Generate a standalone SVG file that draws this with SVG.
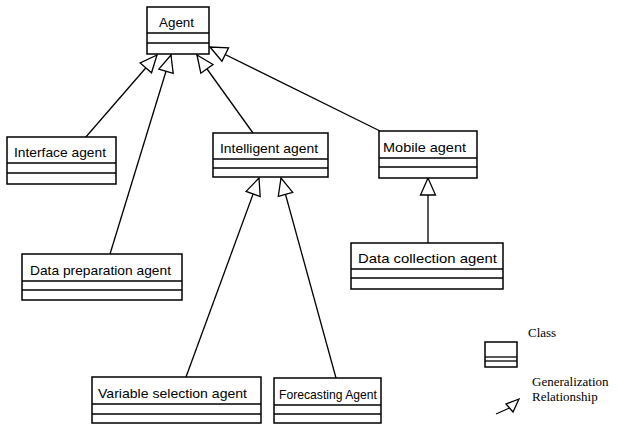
<svg xmlns="http://www.w3.org/2000/svg" width="617" height="426" viewBox="0 0 617 426">
  <style>
    .box { fill: #fff; stroke: #000; stroke-width: 1.5; }
    .div { stroke: #000; stroke-width: 1.3; }
    .lbl { font-family: "Liberation Sans", Arial, sans-serif; font-size: 13.5px; fill: #000; }
    .leg { font-family: "Liberation Serif", "Times New Roman", serif; font-size: 13px; fill: #000; }
    .conn line { stroke: #000; stroke-width: 1.3; marker-end: url(#gen); }
  </style>
  <defs>
    <!-- hollow triangle for UML generalization -->
    <marker id="gen" markerUnits="userSpaceOnUse" markerWidth="22" markerHeight="22" viewBox="-19 -11 22 22" refX="0" refY="0" orient="auto" overflow="visible">
      <path d="M0,0 L-17,-7.5 L-17,7.5 Z" fill="#fff" stroke="#000" stroke-width="1.3" stroke-linejoin="miter"/>
    </marker>
  </defs>
  <rect width="617" height="426" fill="#fff"/>

  <g id="connectors" class="conn">
    <line x1="85" y1="138" x2="157" y2="55"/>
    <line x1="110" y1="254" x2="171" y2="55"/>
    <line x1="253" y1="133" x2="197" y2="55"/>
    <line x1="380" y1="131" x2="210" y2="47"/>
    <line x1="186" y1="377" x2="259" y2="178"/>
    <line x1="336" y1="378" x2="281" y2="178"/>
    <line x1="428" y1="243" x2="428" y2="178"/>
  </g>

  <g id="agent">
    <rect class="box" x="147" y="7" width="62" height="47"/>
    <line class="div" x1="147" y1="33" x2="209" y2="33"/>
    <line class="div" x1="147" y1="43" x2="209" y2="43"/>
    <text class="lbl" x="159" y="27" textLength="35" lengthAdjust="spacingAndGlyphs">Agent</text>
  </g>

  <g id="interface-agent">
    <rect class="box" x="7" y="137" width="109" height="47"/>
    <line class="div" x1="7" y1="163" x2="116" y2="163"/>
    <line class="div" x1="7" y1="173" x2="116" y2="173"/>
    <text class="lbl" x="14" y="157" textLength="92" lengthAdjust="spacingAndGlyphs">Interface agent</text>
  </g>

  <g id="data-preparation-agent">
    <rect class="box" x="22" y="254" width="160" height="46"/>
    <line class="div" x1="22" y1="281" x2="182" y2="281"/>
    <line class="div" x1="22" y1="290" x2="182" y2="290"/>
    <text class="lbl" x="30" y="275" textLength="141" lengthAdjust="spacingAndGlyphs">Data preparation agent</text>
  </g>

  <g id="intelligent-agent">
    <rect class="box" x="213" y="133" width="115" height="44"/>
    <line class="div" x1="213" y1="159" x2="328" y2="159"/>
    <line class="div" x1="213" y1="168" x2="328" y2="168"/>
    <text class="lbl" x="220" y="153" textLength="98" lengthAdjust="spacingAndGlyphs">Intelligent agent</text>
  </g>

  <g id="mobile-agent">
    <rect class="box" x="379" y="131" width="98" height="47"/>
    <line class="div" x1="379" y1="158" x2="477" y2="158"/>
    <line class="div" x1="379" y1="167" x2="477" y2="167"/>
    <text class="lbl" x="383" y="152" textLength="83" lengthAdjust="spacingAndGlyphs">Mobile agent</text>
  </g>

  <g id="data-collection-agent">
    <rect class="box" x="351" y="243" width="152" height="46"/>
    <line class="div" x1="351" y1="269" x2="503" y2="269"/>
    <line class="div" x1="351" y1="278" x2="503" y2="278"/>
    <text class="lbl" x="358" y="263" textLength="139" lengthAdjust="spacingAndGlyphs">Data collection agent</text>
  </g>

  <g id="variable-selection-agent">
    <rect class="box" x="92" y="377" width="169" height="46"/>
    <line class="div" x1="92" y1="404" x2="261" y2="404"/>
    <line class="div" x1="92" y1="414" x2="261" y2="414"/>
    <text class="lbl" x="98" y="398" textLength="149" lengthAdjust="spacingAndGlyphs">Variable selection agent</text>
  </g>

  <g id="forecasting-agent">
    <rect class="box" x="274" y="378" width="107" height="45"/>
    <line class="div" x1="274" y1="405" x2="381" y2="405"/>
    <line class="div" x1="274" y1="414" x2="381" y2="414"/>
    <text class="lbl" x="279" y="399" textLength="98" lengthAdjust="spacingAndGlyphs">Forecasting Agent</text>
  </g>

  <g id="legend">
    <text class="leg" x="528" y="337">Class</text>
    <rect class="box" x="485" y="342" width="32" height="25"/>
    <line class="div" x1="485" y1="357" x2="517" y2="357"/>
    <line class="div" x1="485" y1="361" x2="517" y2="361"/>
    <line x1="496" y1="414" x2="509.5" y2="408" stroke="#000" stroke-width="1.3"/>
    <path d="M519,399 L506,404 L513,412 Z" fill="#fff" stroke="#000" stroke-width="1.3"/>
    <text class="leg" x="532" y="386">Generalization</text>
    <text class="leg" x="532" y="401">Relationship</text>
  </g>
</svg>
